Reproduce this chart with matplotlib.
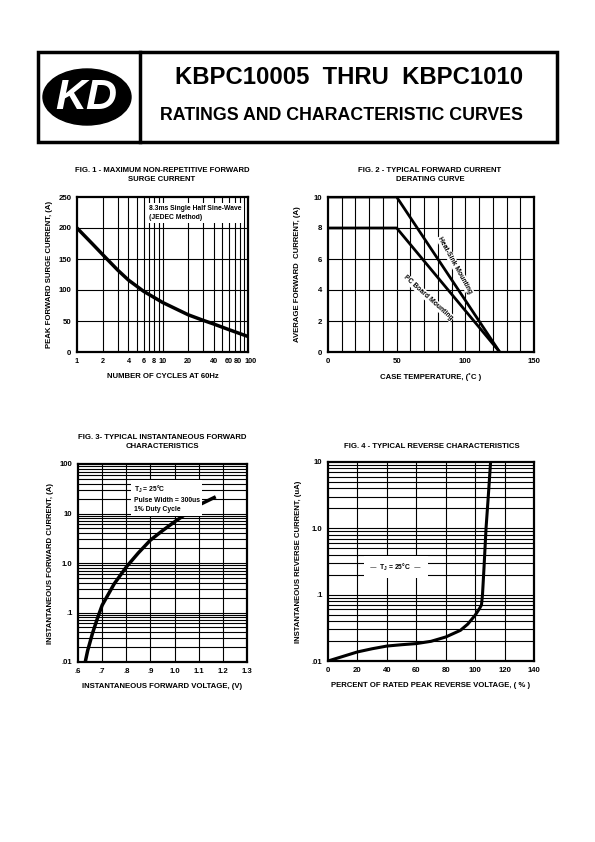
import numpy as np
import matplotlib
matplotlib.use("Agg")
import matplotlib.pyplot as plt
import matplotlib.transforms as mtransforms
from matplotlib.patches import Rectangle, Ellipse

plt.rcParams['font.family'] = ['Liberation Sans', 'DejaVu Sans']
plt.rcParams['font.weight'] = 'bold'
plt.rcParams['mathtext.default'] = 'regular'

# fig 1 - surge current
cycles = [1, 1.5, 2, 3, 4, 6, 10, 20, 30, 40, 60, 100]
surge = [200, 175, 157, 132, 116, 98, 80, 60, 51, 45, 36, 25]

# fig 2 - derating
temp_hs = [0, 50, 125]
amp_hs = [10, 10, 0]
temp_pc = [0, 50, 125]
amp_pc = [8, 8, 0]

# fig 3 - forward characteristics
vf = [0.63, 0.64, 0.66, 0.68, 0.7, 0.75, 0.8, 0.85, 0.9, 0.95, 1.0, 1.05, 1.1, 1.164]
if_a = [0.01, 0.017, 0.038, 0.075, 0.14, 0.38, 0.83, 1.6, 2.9, 4.5, 6.8, 10.0, 14.8, 21.0]

# fig 4 - reverse characteristics
pct = [0, 10, 20, 30, 40, 50, 60, 70, 80, 90, 95, 100, 103, 104.3, 105, 106, 107.4, 109, 110.5]
ir = [0.01, 0.0117, 0.0137, 0.0153, 0.0168, 0.0176, 0.0183, 0.0198, 0.023, 0.029, 0.036, 0.049, 0.062, 0.07, 0.1, 0.25, 1.0, 3.2, 10.0]

W, H = 595, 842
fig = plt.figure(figsize=(W / 100, H / 100), dpi=100)

# header
hdr = fig.add_axes([0, 0, 1, 1], zorder=-1)
hdr.set_xlim(0, W)
hdr.set_ylim(H, 0)
hdr.axis('off')
hdr.add_patch(Rectangle((38, 52), 519, 90, fill=False, lw=2.5, ec='black'))
hdr.plot([140, 140], [52, 142], color='black', lw=2.5)
hdr.add_patch(Ellipse((87, 97), 88, 56, color='black'))
hdr.text(86, 98, 'KD', color='white', fontsize=31, style='italic', weight='bold',
         ha='center', va='center')
hdr.text(349, 77, 'KBPC10005  THRU  KBPC1010', fontsize=17.2, weight='bold',
         ha='center', va='center')
hdr.text(341, 115, 'RATINGS AND CHARACTERISTIC CURVES', fontsize=12.8, weight='bold',
         ha='center', va='center')

fs = 5.6
box_fs = 4.9

def style(ax):
    for s in ax.spines.values():
        s.set_linewidth(1.6)
    ax.tick_params(labelsize=fs, length=0, pad=4)
    for t in ax.get_xticklabels() + ax.get_yticklabels():
        t.set_fontweight('bold')

def grid_v(ax, xs):
    for x in xs:
        ax.axvline(x, color='black', lw=0.8, zorder=1)

def grid_h(ax, ys):
    for y in ys:
        ax.axhline(y, color='black', lw=0.8, zorder=1)

def log_lines(lo, hi):
    out = []
    d = lo
    while d < hi:
        for k in range(1, 10):
            v = d * k
            if lo < v < hi:
                out.append(v)
        d *= 10
    return out

# ---- FIG 1
ax1 = fig.add_axes([77 / W, 1 - 352 / H, 171 / W, 155 / H])
ax1.set_xscale('log')
ax1.set_xlim(1, 100)
ax1.set_ylim(0, 250)
grid_v(ax1, list(range(2, 10)) + list(range(10, 100, 10)))
grid_h(ax1, [50, 100, 150, 200])
ax1.plot(cycles, surge, color='black', lw=2.5, zorder=3)
ax1.set_xticks([1, 2, 4, 6, 8, 10, 20, 40, 60, 80, 100])
ax1.set_xticklabels(['1', '2', '4', '6', '8', '10', '20', '40', '60', '80', '100'])
ax1.minorticks_off()
ax1.set_yticks([0, 50, 100, 150, 200, 250])
ax1.text(7.0, 224, '8.3ms Single Half Sine-Wave\n(JEDEC Method)', fontsize=box_fs,
         weight='bold', va='center', ha='left', linespacing=1.4,
         bbox=dict(facecolor='white', edgecolor='none', pad=1.5), zorder=4)
ax1.set_xlabel('NUMBER OF CYCLES AT 60Hz', fontsize=fs, weight='bold', labelpad=6)
ax1.set_ylabel('PEAK FORWARD SURGE CURRENT, (A)', fontsize=fs, weight='bold', labelpad=4)
style(ax1)
xl = ax1.get_xticklabels()
for t in xl:
    t.set_fontsize(5.2)
xl[-2].set_transform(xl[-2].get_transform() +
                     mtransforms.ScaledTranslation(-1.5 / 100, 0, fig.dpi_scale_trans))
xl[-1].set_transform(xl[-1].get_transform() +
                     mtransforms.ScaledTranslation(2.5 / 100, 0, fig.dpi_scale_trans))
fig.text(162 / W, 1 - 175 / H, 'FIG. 1 - MAXIMUM NON-REPETITIVE FORWARD\nSURGE CURRENT',
         fontsize=fs, weight='bold', ha='center', va='center', linespacing=1.25)

# ---- FIG 2
ax2 = fig.add_axes([328 / W, 1 - 352 / H, 206 / W, 155 / H])
ax2.set_xlim(0, 150)
ax2.set_ylim(0, 10)
grid_v(ax2, range(10, 150, 10))
grid_h(ax2, range(2, 10, 2))
ax2.plot(temp_hs, amp_hs, color='black', lw=2, zorder=3)
ax2.plot(temp_pc, amp_pc, color='black', lw=2, zorder=3)
ax2.set_xticks([0, 50, 100, 150])
ax2.set_yticks(range(0, 11, 2))
ax2.text(92.5, 5.6, 'Heat-Sink Mounting', fontsize=box_fs, weight='bold', rotation=-61,
         ha='center', va='center', rotation_mode='anchor',
         bbox=dict(facecolor='white', edgecolor='none', pad=0.5), zorder=4)
ax2.text(73, 3.5, 'PC Board Mounting', fontsize=box_fs, weight='bold', rotation=-42,
         ha='center', va='center', rotation_mode='anchor',
         bbox=dict(facecolor='white', edgecolor='none', pad=0.5), zorder=4)
ax2.set_xlabel('CASE TEMPERATURE, (\u02daC )', fontsize=fs, weight='bold', labelpad=6)
ax2.set_ylabel('AVERAGE FORWARD  CURRENT, (A)', fontsize=fs, weight='bold', labelpad=9)
style(ax2)
fig.text(430 / W, 1 - 175 / H, 'FIG. 2 - TYPICAL FORWARD CURRENT\nDERATING CURVE',
         fontsize=fs, weight='bold', ha='center', va='center', linespacing=1.25)

# ---- FIG 3
ax3 = fig.add_axes([78 / W, 1 - 662 / H, 169 / W, 198 / H])
ax3.set_yscale('log')
ax3.set_xlim(0.6, 1.3)
ax3.set_ylim(0.01, 100)
grid_v(ax3, np.arange(0.7, 1.3, 0.1))
grid_h(ax3, log_lines(0.01, 100))
ax3.plot(vf, if_a, color='black', lw=2.5, zorder=3)
ax3.set_xticks([0.6, 0.7, 0.8, 0.9, 1.0, 1.1, 1.2, 1.3])
ax3.set_xticklabels(['.6', '.7', '.8', '.9', '1.0', '1.1', '1.2', '1.3'])
ax3.set_yticks([0.01, 0.1, 1, 10, 100])
ax3.set_yticklabels(['.01', '.1', '1.0', '10', '100'])
ax3.minorticks_off()
ax3.text(0.83, 20, 'T$_J$ = 25\u00b0C\nPulse Width = 300us\n1% Duty Cycle', fontsize=box_fs,
         weight='bold', va='center', ha='left', linespacing=1.4,
         bbox=dict(facecolor='white', edgecolor='none', pad=2), zorder=4)
ax3.set_xlabel('INSTANTANEOUS FORWARD VOLTAGE, (V)', fontsize=fs, weight='bold', labelpad=6)
ax3.set_ylabel('INSTANTANEOUS FORWARD CURRENT, (A)', fontsize=fs, weight='bold', labelpad=4)
style(ax3)
fig.text(162 / W, 1 - 442 / H, 'FIG. 3- TYPICAL INSTANTANEOUS FORWARD\nCHARACTERISTICS',
         fontsize=fs, weight='bold', ha='center', va='center', linespacing=1.25)

# ---- FIG 4
ax4 = fig.add_axes([328 / W, 1 - 661 / H, 206 / W, 199 / H])
ax4.set_yscale('log')
ax4.set_xlim(0, 140)
ax4.set_ylim(0.01, 10)
grid_v(ax4, range(20, 140, 20))
grid_h(ax4, log_lines(0.01, 10))
ax4.plot(pct, ir, color='black', lw=2.2, zorder=3)
ax4.set_xticks(range(0, 141, 20))
ax4.set_yticks([0.01, 0.1, 1, 10])
ax4.set_yticklabels(['.01', '.1', '1.0', '10'])
ax4.minorticks_off()
ax4.text(46, 0.26, '\u2014  T$_J$ = 25\u00b0C  \u2014', fontsize=box_fs, weight='bold',
         va='center', ha='center',
         bbox=dict(facecolor='white', edgecolor='none', pad=4), zorder=4)
ax4.set_xlabel('PERCENT OF RATED PEAK REVERSE VOLTAGE, ( % )', fontsize=fs, weight='bold', labelpad=6)
ax4.set_ylabel('INSTANTANEOUS REVERSE CURRENT, (uA)', fontsize=fs, weight='bold', labelpad=7)
style(ax4)
fig.text(432 / W, 1 - 446 / H, 'FIG. 4 - TYPICAL REVERSE CHARACTERISTICS',
         fontsize=fs, weight='bold', ha='center', va='center')

fig.savefig('out.png', dpi=100)
